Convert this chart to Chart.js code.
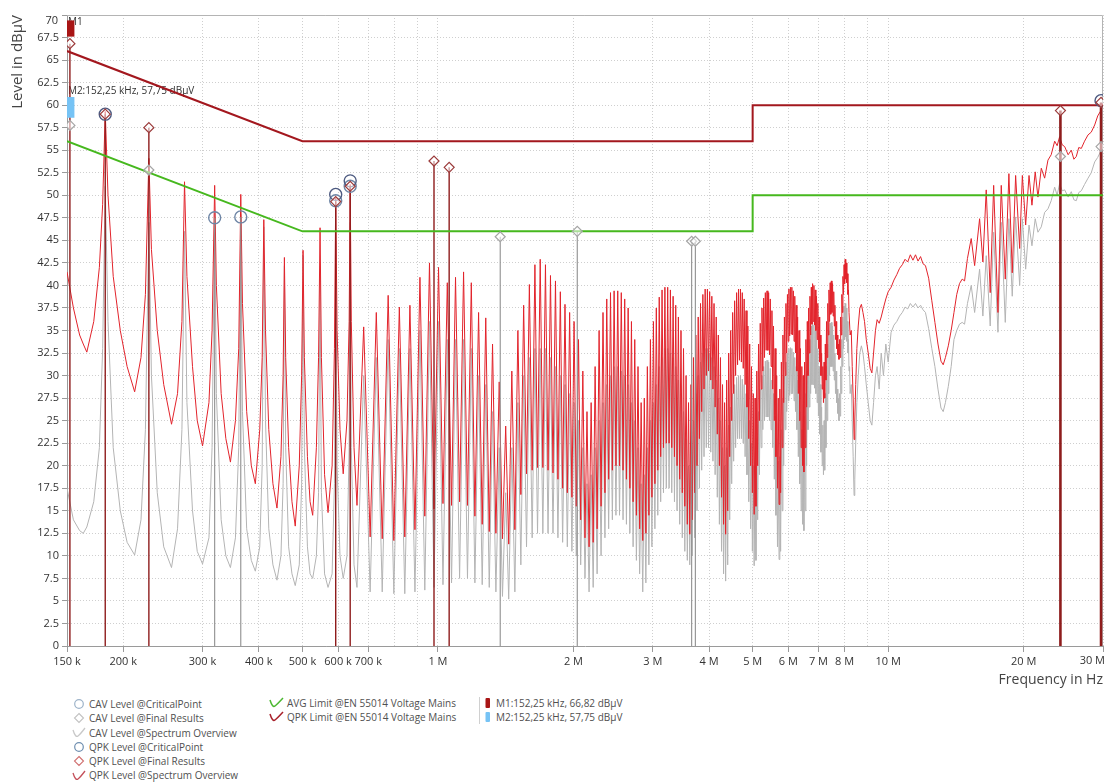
<!DOCTYPE html>
<html><head><meta charset="utf-8">
<script src="https://cdn.jsdelivr.net/npm/chart.js@4.4.1/dist/chart.umd.min.js"></script>
<style>
html,body{margin:0;padding:0;background:#fff;}
#wrap{position:relative;width:1106px;height:783px;overflow:hidden;background:#fff;}
#c{position:absolute;left:0;top:0;}
.lg{position:absolute;font:10px "Open Sans",sans-serif;color:#505050;white-space:nowrap;}
.lg div{height:14.3px;line-height:14.3px;display:flex;align-items:center;}
.lg svg{flex:none;margin-right:3px;}
.sep{position:absolute;width:1px;background:#d0d0d0;}
</style></head><body>
<div id="wrap">
<canvas id="c" width="1106" height="690"></canvas>
<div class="lg" style="left:72px;top:697px">
 <div><svg width="14" height="12"><circle cx="7" cy="6" r="4.3" fill="none" stroke="#9db3c9" stroke-width="1.2"/></svg>CAV Level @CriticalPoint</div>
 <div><svg width="14" height="12"><path d="M7 1.5L11.5 6L7 10.5L2.5 6Z" fill="none" stroke="#c2c2c2" stroke-width="1.1"/></svg>CAV Level @Final Results</div>
 <div><svg width="14" height="12"><path d="M1 3Q3.5 11 6 9T13 1" fill="none" stroke="#c8c8c8" stroke-width="1.3"/></svg>CAV Level @Spectrum Overview</div>
 <div><svg width="14" height="12"><circle cx="7" cy="6" r="4.3" fill="none" stroke="#6f8fb0" stroke-width="1.2"/></svg>QPK Level @CriticalPoint</div>
 <div><svg width="14" height="12"><path d="M7 1.5L11.5 6L7 10.5L2.5 6Z" fill="none" stroke="#d07070" stroke-width="1.1"/></svg>QPK Level @Final Results</div>
 <div><svg width="14" height="12"><path d="M1 3Q3.5 11 6 9T13 1" fill="none" stroke="#c4505a" stroke-width="1.3"/></svg>QPK Level @Spectrum Overview</div>
</div>
<div class="lg" style="left:269px;top:696px">
 <div><svg width="15" height="12"><path d="M1 3Q3.5 11 6 9T14 1" fill="none" stroke="#4cb832" stroke-width="1.5"/></svg>AVG Limit @EN 55014 Voltage Mains</div>
 <div><svg width="15" height="12"><path d="M1 3Q3.5 11 6 9T14 1" fill="none" stroke="#a8202a" stroke-width="1.5"/></svg>QPK Limit @EN 55014 Voltage Mains</div>
</div>
<div class="sep" style="left:479px;top:697px;height:27px"></div>
<div class="lg" style="left:485px;top:696px">
 <div><svg width="8" height="12"><rect x="0.5" y="1" width="4.5" height="10" rx="1" fill="#a81515"/></svg>M1:152,25 kHz, 66,82 dBµV</div>
 <div><svg width="8" height="12"><rect x="0.5" y="1" width="4.5" height="10" rx="1" fill="#76c3f5"/></svg>M2:152,25 kHz, 57,75 dBµV</div>
</div>
</div>
<script>
// ---------- spectrum data (frequency in kHz, level in dBµV) ----------
const freqA = [150,155,160,163,166,172,177,180,182.4,185,
190,197,204,212,219,224,228,231,238,246,
256,264,270,273.6,277,285,292,300,310,315,
319.2,322,330,338,346,355,361,364.8,368,376,
385,393,402,407,410.4,414,421,430,439,448,
453,456,459,466,474,482,492,498,501.6,505,
513,520,527];
const qpkA = [41.5,37.5,34.5,33.5,32.6,36,42,49,59.3,50,
41,35,31,28.2,32,39,54.1,44,35,29,
24.6,28,36,51.5,41,31,25,22.2,27,35,
51.1,40,28,23,20.4,25,33,50.1,38,26,
20,18,24,32,47.3,35,24,18,15.3,21,
30,43.1,32,22,16,13.3,20,30,43.9,32,
21,16,14.5];
const cavA = [17.5,14,12.8,12.5,13.2,16,22,33,51,36,
22,15,11.5,10.1,14,24,47,30,17,11,
8.7,13,24,46,27,15,10.5,9.1,12,22,
48,28,14,10,8.7,12,22,47.9,26,13,
9.5,8.3,11,20,46.5,25,13,9,7.3,10,
18,42.2,22,11,8,6.7,9,18,43.3,22,
11,8,7.5];

const freqB = [537,543,547.2,551,560,570,582,589,592.8,597,
606,616,628,635,638.4,642,651,661,684,707,
729.6,752,775.2,798,820.8,844,866.4,889,912,935,
957.6,980,1003,1026,1049,1072,1094,1117,1140,1163,
1186,1208,1231,1254,1277,1300,1322,1345,1368,1391,
1414,1436,1459,1482,1505,1528,1550,1573,1596,1619,
1642,1664,1687,1710,1733,1756,1778,1801,1824,1847,
1870,1892,1915,1938];
const qpkB = [22,32,46.4,32,19,14.8,20,33,49.7,35,
24,19.1,25,36,51.2,36,22,15.6,35.4,12.1,
37,11.9,38.9,11.7,37.6,12.1,37.8,12.9,40.9,14.4,
42.5,15.2,42,15.8,40.3,15.6,40.9,16,41.5,15.6,
40.3,14.4,37,13.5,36.4,12.7,33.5,12.5,29.3,11.9,
24.4,11.3,30.5,12.9,35,16.8,37.8,19.1,40.1,19.5,
42.3,19.8,42.9,19.8,42.3,19.5,41.1,19.2,40.5,18.5,
39.3,17.5,37.9,17];
const cavB = [10,17,41,17,8,6.5,8,18,45,20,
10,7.5,10,22,47,22,9,6.5,30,6,
32,6,34,5.8,33,5.8,33,6,35,6.2,
36,6.5,36,6.8,34,7,34,7.5,34,7.5,
33,7,30,6.8,29,6.5,26,6,22,5.5,
17,5.2,22,6,27,9,30,11,32,12,
33,12.5,33,12.5,33,12.5,32,12.5,31,12,
30,11.5,29,11];

const freqC = [1961,1984,2006,2029,2052,2075,2098,2121,2143,2166,
2189,2212,2234,2257,2280,2303,2326,2349,2371,2394,
2417,2440,2462,2485,2508,2531,2554,2577,2599,2622,
2645,2668,2690,2713,2736,2759,2782,2805,2827,2850,
2873,2896,2918,2941,2964,2987,3010,3033,3055,3078,
3101,3124,3146,3169,3192,3215,3238,3261,3283,3306,
3329,3352,3374,3397,3420,3443,3466,3489,3511,3534,
3557,3580,3602,3625,3648,3671,3694,3717,3739,3762,
3785,3808,3830,3853,3876,3899,3922,3945,3967,3990,
4013,4036,4058,4081,4104,4127,4150,4173,4195,4218,
4241,4264,4286,4309,4332,4355,4378,4401,4423,4446,
4469,4492,4514,4537,4560,4583,4606,4629,4651,4674,
4697,4720,4742,4765,4788,4811,4834,4857,4879,4902,
4925,4948,4970,4993,5016,5039,5062,5085,5107,5130,
5153,5176,5198,5221,5244,5267,5290,5313,5335,5358,
5381,5404,5426,5449,5472,5495,5518,5541,5563,5586,
5609,5632,5654,5677,5700,5723,5746,5769,5791,5814,
5837,5860,5882,5905,5928,5951,5974,5997,6019,6042,
6065,6088,6110,6133,6156,6179,6202,6225,6247,6270,
6293,6316,6338,6361,6384,6407,6430,6453,6475,6498,
6521,6544,6566,6589,6612,6635,6658,6681,6703,6726,
6749,6772,6794,6817,6840,6863,6886,6909,6931,6954,
6977,7000,7022,7045,7068,7091,7114,7137,7159,7182,
7205,7228,7250,7273,7296,7319,7342,7365,7387,7410,
7433,7456,7478,7501,7524,7547,7570,7593,7615,7638,
7661,7684,7706,7729,7752,7775,7798,7821,7843,7866,
7889,7912,7934,7957,7980,8003,8026,8049,8071,8094,
8117,8140,8162,8185,8208,8231];
const qpkC = [37,16.5,36,15.5,34,14,30.5,12,26,11,
27,11.5,31,13,35,15.5,37,17,38.5,18.5,
39.2,19.5,39.4,20,39.4,20,39.2,19.5,38.5,18.5,
37.5,17.5,36,16,34,14.5,31,13,27,11.7,
27.5,12.5,31,14.5,34,16.5,36,18,37.5,19.5,
38.7,21,39.5,22,39.8,22.5,39.8,22.5,39.5,22,
38.8,21,37.8,20,36.5,18.5,35,17,33,15.5,
30,13.5,27,12.4,29,14,32,17,34.5,20,
36.5,23,38,26,39,28.5,39.6,30,39.6,30.5,
39.3,29.5,38.8,28.5,38,26.5,36.5,23.5,34.5,20,
32,16.5,29,13.5,27,12.4,29.5,15,32.5,21,
35,25,37,28,38.3,30,39.2,31.2,39.6,31.7,
39.6,31.5,39.2,30.8,38.5,29,37.2,26.5,35.5,23,
33.5,20,31,17,28,14.6,27.5,15.5,30.5,20,
33.5,25,35.8,28.5,37.5,30.5,38.6,32,39.2,32.8,
39.4,32.8,39.2,32.3,38.5,31,37.2,28.5,35.5,25,
33,21,30,17.5,27.5,15.7,28.5,17,31.5,22,
34.5,27,36.5,30,38,32.5,39,33.8,39.6,34.4,
39.8,34.6,39.8,34.5,39.4,33.8,38.8,32.5,37.8,30.5,
36.5,28,35,25,33,22,31,20,30,19.3,
31.5,22,34,26.5,36,30,37.5,32.5,38.8,34.5,
39.8,35.7,40.2,36,40,35.6,39.5,35,38.8,34,
38,33,36.5,31.5,34.5,30,32.5,28.5,31,27,
31.5,27.5,33.5,29.5,36,32,38,34.5,39.5,36,
40.3,36.8,40.5,37,40.2,36.6,39.3,35.5,37.8,34,
36,33,34.5,32.3,33.5,31.8,34,32,36.5,34.5,
39,37,41,39,42.3,40.2,42.9,40.7,42.5,40.3,
41.3,39,39.5,37,37,34.5];
const cavC = [28,10.5,27,10,25,9,22,7.5,18,6,
19,6.5,22,8,25,10,27,12,29,13,
30,14,31,14.5,31,14.5,30.5,14,30,13.5,
29,12.5,27,11,25,9.5,22,8,18,6,
19,7,22,9,25,11,27,13,29,14.5,
31,16,32,17,33,17.5,33,17.5,32.5,17,
32,16,31,15,29.5,13.5,28,12,26,10.5,
23,9.5,20,9,22,10,25,12,28,15,
30,17.5,31.5,19.5,32.5,21,33,22,33,22,
32.5,21.5,32,20.5,31,19,29.5,16.5,27.5,13.5,
25,10.5,22,8,20,7.2,22,9,24.5,14,
26.5,18,28,20.5,29,22,29.8,23,30,23,
30,23,29.6,22.5,29,21,28,19,26.5,16,
25,13,22.5,10.5,20,8.9,20,9.5,23,14,
26,19,28.5,22,30,24,31,25,31.6,25.4,
31.7,25.4,31.5,25,30.8,24,29.5,22,28,18.5,
25.5,14.5,23,11,20.5,9.6,21,10.5,24,15,
27.5,20,30,24,31.5,26,32.5,27.2,33,27.8,
33.1,28,33,28,32.6,27.2,32,26,31,24,
29.5,21,28,18,26,15,24,13.5,24,12.8,
25.5,15,28,20,30.5,24,32.5,26.5,34,28,
35.5,29,36,29,35.6,28.6,35,28,34,27,
33,25.5,31,23.5,29,21.5,26.5,20,24.5,19,
25,19.5,28,22,31,25,33.5,28,35,30,
35.8,31,35.9,31,35.5,30.5,34.5,29.5,32.5,28,
30.5,27,28.5,25.8,27.5,25,28,25.5,31,28,
34,31,36.5,33,37.7,34,38,34.3,37.5,33.8,
36,32.5,34,30.5,31,28];

const freqD = [8280,8320,8360,8400,8430,8470,8520,8580,8650,8720,
8790,8860,8940,9030,9120,9200,9280,9370,9450,9550,
9650,9760,9880,10000,10150,10300,10450,10600,10750,10900,
11050,11200,11350,11500,11650,11800,11950,12100,12300,12500,
12700,12900,13100,13250,13400,13600,13800,14000,14200,14400];
const qpkD = [35,31,27.5,22.9,25,29,33,35.5,37.5,37.9,
37,36,34,32.5,30.8,30.3,32.5,35,36.2,35.8,
36.5,37.5,38.5,39.3,39.8,40.6,41.2,41.9,42.3,42.9,
42.6,43.4,42.8,43.4,42.7,43.2,42.4,42.2,40.8,38.3,
35.9,33.5,31.6,31.2,32,33.3,35,37,39,40.2];
const cavD = [29,25,21,16.7,18.5,22.5,27,30,32.5,33.3,
32.5,31,29,27,25,24.5,27,30,31,28.5,
32.5,30,33.5,31.5,34.8,35.6,36,36.6,37,37.6,
37.4,38,37.6,38,37.5,37.8,37.3,37,35.2,33,
31,28.5,26.4,26,27,28.8,31,34,35,35.7];

const freqE = [14600,14780,15000,15290,15560,15960,16230,16510,16850,17150,
17530,17830,18200,18540,18860,19190,19590,19860,20200,20550,
20860,21210,21510,21880,22260,22640,23020,23430,23730,24030,
24350,24660,25100,25510,25850,26170,26500,26850,27300,27790,
28250,28750,29200,29600,30000];
const qpkE = [40.7,40.5,43,45.2,42.2,47.4,42.6,50.6,39.2,51.1,
37,51.1,40.7,52.4,41.4,52.2,44.1,52.2,46.7,52.2,
48.9,52.6,49.8,53,51.9,53.9,54.5,56,55.5,56.5,
55.6,55.4,54.5,55,54,54.3,55.3,55.2,56,56.7,
57,57.8,58.8,59.3,60.2];
const cavE = [35.9,35.7,38,40,37,41.8,36.6,43.3,35.5,45.9,
34.8,47,35.9,47.4,38.8,47.6,40,47.4,41.8,46.7,
44.4,47.4,45.9,46.5,48.1,48.5,49.4,50.9,50,51.3,
50.5,50.6,49.8,50.4,49.5,49.4,50.3,50.5,51.2,51.9,
52.5,53.7,54.2,54.8,55.3];

// ---------- limits ----------
const limitFreq = [150, 500, 5000, 5000, 30000];
const qpkLimit  = [66, 56, 56, 60, 60];
const avgLimit  = [56, 46, 46, 50, 50];

// ---------- final results / critical points ----------
const qpkFinalFreq  = [152.25, 182.4, 228, 592.8, 638.4, 980, 1059, 24130, 29700];
const qpkFinalLevel = [66.82, 59.0, 57.5, 49.3, 51.0, 53.8, 53.1, 59.4, 60.3];
const cavFinalFreq  = [152.25, 228, 1375, 2039, 3660, 3730, 24130, 29700];
const cavFinalLevel = [57.75, 52.8, 45.4, 46.0, 44.9, 44.9, 54.3, 55.4];
const qpkCritFreq   = [182.4, 592.8, 638.4, 29700];
const qpkCritLevel  = [59.0, 50.1, 51.6, 60.5];
const cavCritFreq   = [319.2, 364.8, 592.8, 638.4];
const cavCritLevel  = [47.5, 47.6, 49.4, 51.0];

// ---------- markers ----------
const markerFreq  = [152.25, 152.25];
const markerLevel = [66.82, 57.75];
const markerText  = ['M1', 'M2:152,25 kHz, 57,75 dBµV'];

// ---------- axis ticks ----------
const xTickValues = [150,200,300,400,500,600,700,800,900,1000,2000,3000,4000,5000,6000,7000,8000,9000,10000,20000,30000];
const xTickLabels = ['150 k','200 k','300 k','400 k','500 k','600 k','700 k','','','1 M','2 M','3 M','4 M','5 M','6 M','7 M','8 M','','10 M','20 M','30 M'];
const yMax = 70;

// ---------- build ----------
const freqKHz  = [].concat(freqA, freqB, freqC, freqD, freqE);
const qpkLevel = [].concat(qpkA, qpkB, qpkC, qpkD, qpkE);
const cavLevel = [].concat(cavA, cavB, cavC, cavD, cavE);
const pts = (fs, ls) => fs.map((f, i) => ({x: f, y: ls[i]}));
const stems = (fs, ls) => { const p = []; fs.forEach((f, i) => { p.push({x: f, y: 0}, {x: f, y: ls[i]}, {x: f, y: null}); }); return p; };
const lastX = xTickLabels.length - 1;

Chart.defaults.font.family = '"Open Sans", sans-serif';

const frameAndText = {
  id: 'frameAndText',
  beforeDatasetsDraw(chart) {
    const {ctx, scales: {x, y}, chartArea: a} = chart;
    ctx.save();
    ctx.strokeStyle = '#b4b4b4'; ctx.lineWidth = 1;
    ctx.beginPath();
    ctx.moveTo(a.left, a.top + 0.5); ctx.lineTo(a.right - 0.5, a.top + 0.5); ctx.lineTo(a.right - 0.5, a.bottom);
    ctx.stroke();
    ctx.font = '10px "Open Sans", sans-serif'; ctx.fillStyle = '#333'; ctx.textBaseline = 'middle'; ctx.textAlign = 'left';
    ctx.fillText(markerText[0], x.getPixelForValue(markerFreq[0]) - 2, y.getPixelForValue(69.2));
    ctx.fillText(markerText[1], x.getPixelForValue(markerFreq[1]) - 2, y.getPixelForValue(61.6));
    // edge tick labels that the instrument pulls inside the frame
    ctx.font = '11px "Open Sans", sans-serif';
    ctx.textAlign = 'right'; ctx.textBaseline = 'top';
    ctx.fillText(xTickLabels[lastX], x.getPixelForValue(xTickValues[lastX]) + 2, a.bottom + 9);
    ctx.textBaseline = 'middle';
    ctx.fillText(String(yMax), a.left - 9, y.getPixelForValue(yMax) + 6);
    ctx.restore();
  }
};

new Chart(document.getElementById('c'), {
  type: 'scatter',
  data: {
    datasets: [
      {label: 'QPK Level @Final Results', data: pts(qpkFinalFreq, qpkFinalLevel), pointStyle: 'rectRot', pointRadius: 5, borderColor: '#9b3a3a', backgroundColor: 'rgba(255,255,255,0.55)', borderWidth: 1.2, order: 0},
      {label: 'CAV Level @Final Results', data: pts(cavFinalFreq, cavFinalLevel), pointStyle: 'rectRot', pointRadius: 5, borderColor: '#a5a5a5', backgroundColor: 'rgba(255,255,255,0.55)', borderWidth: 1.2, order: 0},
      {label: 'QPK Level @CriticalPoint', data: pts(qpkCritFreq, qpkCritLevel), pointStyle: 'circle', pointRadius: 6, borderColor: '#4d5a80', backgroundColor: 'rgba(0,0,0,0)', borderWidth: 1.4, order: 0},
      {label: 'CAV Level @CriticalPoint', data: pts(cavCritFreq, cavCritLevel), pointStyle: 'circle', pointRadius: 6, borderColor: '#6f86a6', backgroundColor: 'rgba(0,0,0,0)', borderWidth: 1.4, order: 0},
      {label: 'M1', data: [{x: markerFreq[0], y: 67.6}, {x: markerFreq[0], y: 69.4}], showLine: true, pointRadius: 0, borderColor: '#a81515', borderWidth: 9, borderCapStyle: 'butt', order: 1},
      {label: 'M2', data: [{x: markerFreq[1], y: 58.6}, {x: markerFreq[1], y: 60.9}], showLine: true, pointRadius: 0, borderColor: '#76c3f5', borderWidth: 9, borderCapStyle: 'butt', order: 1},
      {label: 'QPK Limit', data: pts(limitFreq, qpkLimit), showLine: true, pointRadius: 0, borderColor: '#a3171e', borderWidth: 2, order: 2},
      {label: 'AVG Limit', data: pts(limitFreq, avgLimit), showLine: true, pointRadius: 0, borderColor: '#46b81e', borderWidth: 2, order: 2},
      {label: 'QPK stems', data: stems(qpkFinalFreq, qpkFinalLevel), showLine: true, pointRadius: 0, borderColor: '#8e1c1c', borderWidth: 1.4, order: 3,
        segment: {borderWidth: c => (c.p0.parsed.x > 20000 ? 2.6 : 1.4)}},
      {label: 'CAV stems', data: stems(cavFinalFreq.slice(2, 6).concat(cavCritFreq.slice(0, 2)), cavFinalLevel.slice(2, 6).concat(cavCritLevel.slice(0, 2))), showLine: true, pointRadius: 0, borderColor: '#8f8f8f', borderWidth: 1.1, order: 4},
      {label: 'QPK Level @Spectrum Overview', data: pts(freqKHz, qpkLevel), showLine: true, pointRadius: 0, borderColor: '#e2232b', borderWidth: 1, borderJoinStyle: 'round', order: 5},
      {label: 'CAV Level @Spectrum Overview', data: pts(freqKHz, cavLevel), showLine: true, pointRadius: 0, borderColor: '#b4b4b4', borderWidth: 1, borderJoinStyle: 'round', order: 6}
    ]
  },
  options: {
    responsive: false, animation: false, events: [],
    layout: {padding: {left: 0, top: 15, right: 3, bottom: 0}, autoPadding: false},
    plugins: {legend: {display: false}, tooltip: {enabled: false}},
    scales: {
      x: {
        type: 'logarithmic', min: 150, max: 30000,
        afterBuildTicks: s => { s.ticks = xTickValues.map(v => ({value: v})); },
        afterFit: s => { s.height = 44; s.paddingLeft = 0; s.paddingRight = 0; },
        ticks: {autoSkip: false, maxRotation: 0, minRotation: 0, padding: 3, color: '#333', font: {size: 11},
          callback: (v, i) => (i === lastX ? '' : xTickLabels[i])},
        grid: {color: '#cfcfcf', tickLength: 6, tickColor: c => (xTickLabels[c.index] ? '#9a9a9a' : 'rgba(0,0,0,0)')},
        border: {color: '#9a9a9a', dash: [1, 2]},
        title: {display: true, text: 'Frequency in Hz', align: 'end', color: '#444', font: {size: 14}, padding: {top: 0, bottom: 2}}
      },
      y: {
        min: 0, max: yMax,
        afterFit: s => { s.width = 67; s.paddingTop = 0; s.paddingBottom = 0; },
        ticks: {stepSize: 2.5, maxTicksLimit: 40, padding: 3, color: '#333', font: {size: 11}, callback: v => (v === yMax ? '' : String(v))},
        grid: {color: '#cfcfcf', tickLength: 5, tickColor: '#9a9a9a'},
        border: {color: '#9a9a9a', dash: [1, 2]},
        title: {display: true, text: 'Level in dBµV', align: 'end', color: '#444', font: {size: 15}, padding: {top: 9, bottom: 0}}
      }
    }
  },
  plugins: [frameAndText]
});
</script>
</body></html>
